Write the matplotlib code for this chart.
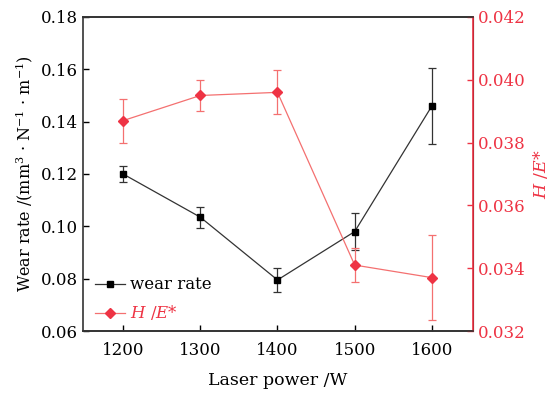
import matplotlib
matplotlib.use("Agg")
import matplotlib.pyplot as plt
from matplotlib.lines import Line2D

plt.rcParams['font.family'] = ['DejaVu Serif']
plt.rcParams['mathtext.fontset'] = 'dejavuserif'

power = [1200, 1300, 1400, 1500, 1600]
wear = [0.120, 0.1035, 0.0795, 0.098, 0.146]
wear_err = [0.003, 0.004, 0.0045, 0.007, 0.0145]
he = [0.0387, 0.0395, 0.0396, 0.0341, 0.0337]
he_err = [0.0007, 0.0005, 0.0007, 0.00055, 0.00135]

red = '#ee3344'
fig = plt.figure(figsize=(5.53, 3.95), dpi=100)
ax = fig.add_axes([0.150, 0.162, 0.705, 0.795])
ax2 = ax.twinx()

ax.errorbar(power, wear, yerr=wear_err, color='#333333', marker='s', ms=5,
            mfc='black', mec='black', lw=0.9, elinewidth=0.9, capsize=3, capthick=0.9)
ax2.errorbar(power, he, yerr=he_err, color='#f47070', marker='D', ms=5,
             mfc=red, mec=red, lw=0.9, elinewidth=0.9, capsize=3, capthick=0.9)

ax.set_xlim(1148, 1653)
ax.set_ylim(0.06, 0.18)
ax2.set_ylim(0.032, 0.042)
ax.set_xticks([1200, 1300, 1400, 1500, 1600])
ax.set_yticks([0.06, 0.08, 0.10, 0.12, 0.14, 0.16, 0.18])
ax.set_yticklabels(['%.2f' % v for v in [0.06, 0.08, 0.10, 0.12, 0.14, 0.16, 0.18]])
ax2.set_yticks([0.032, 0.034, 0.036, 0.038, 0.040, 0.042])
ax2.set_yticklabels(['%.3f' % v for v in [0.032, 0.034, 0.036, 0.038, 0.040, 0.042]])

ax.tick_params(axis='both', direction='in', labelsize=12, length=4, width=1)
ax.tick_params(axis='x', top=False, pad=8)
ax2.tick_params(axis='y', direction='in', labelsize=12, length=4, width=1,
                colors=red, labelcolor=red)
for s in ['left', 'bottom', 'top']:
    ax.spines[s].set_color('#333333')
    ax.spines[s].set_linewidth(1.2)
ax2.spines['right'].set_color(red)
ax2.spines['right'].set_linewidth(1.2)
ax2.spines['left'].set_visible(False)
ax2.spines['top'].set_linewidth(1.2)
ax2.spines['top'].set_color('#333333')
ax2.spines['bottom'].set_linewidth(1.2)
ax2.spines['bottom'].set_color('#333333')

ax.set_xlabel('Laser power /W', fontsize=12.5, labelpad=9)
ax.set_ylabel('Wear rate /(mm$^3$ · N$^{-1}$ · m$^{-1}$)', fontsize=11.5)
ax2.set_ylabel('$H$ /$E$*', fontsize=12.5, color=red)

h1 = Line2D([], [], color='#333333', marker='s', ms=5, mfc='black', mec='black', lw=0.9)
h2 = Line2D([], [], color='#f47070', marker='D', ms=5, mfc=red, mec=red, lw=0.9)
leg = ax.legend([h1, h2], ['wear rate', '$H$ /$E$*'], loc='lower left',
                frameon=False, fontsize=12, handlelength=1.8, handletextpad=0.3,
                labelspacing=0.6, borderaxespad=0.3, bbox_to_anchor=(0.0, -0.01))
leg.get_texts()[1].set_color(red)

fig.savefig('out.png', dpi=100)
